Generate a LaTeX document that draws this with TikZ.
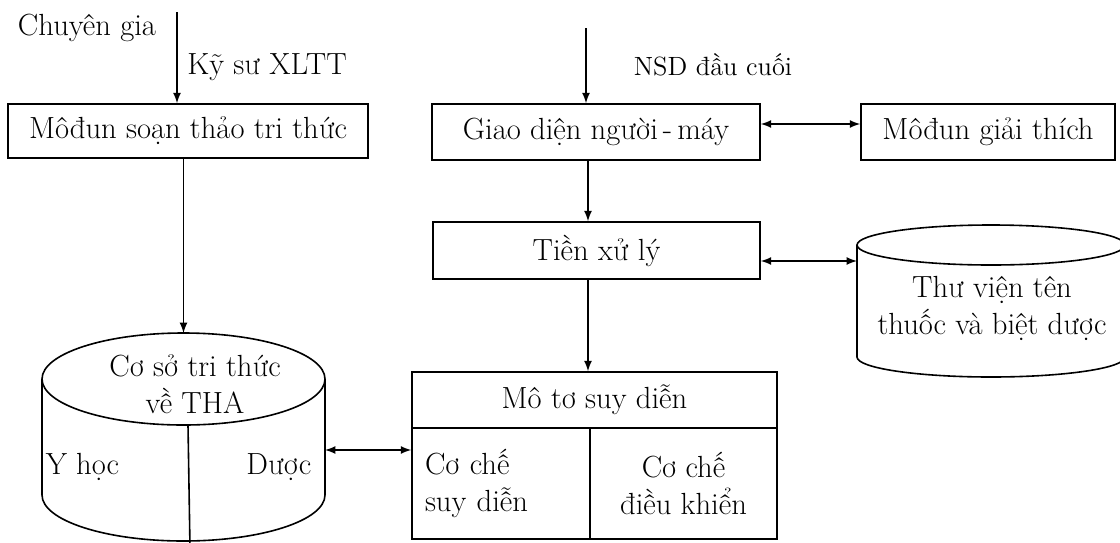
\documentclass[tikz,border=0pt]{standalone}
\usepackage{fontspec}
\begin{document}
\begin{tikzpicture}[x=0.5pt,y=-0.5pt,>=latex,thick,
  font=\fontsize{15.3}{18.5}\selectfont,
  khoi/.style={draw,rectangle,inner sep=0pt,align=center},
  nhan/.style={inner sep=0pt,align=center}]
\useasboundingbox (0,0) rectangle (1120,542);

% cac khoi ben trai
\node[nhan] (chuyengia) at (87,28) {Chuyên gia};
\node[nhan] (kysu) at (267,67) {Kỹ sư XLTT};
\coordinate (vao1) at (177,12);
\node[khoi,minimum width=180pt,minimum height=27pt] (soanthao) at (188,131) {Môđun soạn thảo tri thức};

% co so tri thuc (hinh tru)
\coordinate (csttop) at (183.5,333);
\coordinate (cstphai) at (325,450);
\draw (42,379) -- (42,495) arc[start angle=180,end angle=0,x radius=141.5,y radius=46] -- (325,379);
\draw (183.5,379) ellipse[x radius=141.5,y radius=46];
\draw (188,425) -- (190,548);
\node[nhan] (cst) at (195,384) {Cơ sở tri thức\\về THA};
\node[nhan,anchor=west] (yhoc) at (45,467) {Y học};
\node[nhan,anchor=east] (duoc) at (312,467) {Dược};

% cac khoi o giua
\coordinate (vao2) at (586,28);
\node[nhan,anchor=west,font=\fontsize{13.2}{16}\selectfont] (nsd) at (633,65) {NSD đầu cuối};
\node[khoi,minimum width=164pt,minimum height=28pt] (giaodien) at (596,132) {Giao diện người\,-\,máy};
\node[khoi,minimum width=127pt,minimum height=28pt] (giaithich) at (988,132) {Môđun giải thích};
\node[khoi,minimum width=163.5pt,minimum height=28.5pt] (tienxuly) at (596.5,250.5) {Tiền xử lý};
\node[khoi,minimum width=182.5pt,minimum height=28pt] (moto) at (594.5,400) {Mô tơ suy diễn};
\node[khoi,minimum width=89pt,minimum height=55.5pt,text width=76pt,align=left] (suydien) at (501,483.5) {Cơ chế\\suy diễn};
\node[khoi,minimum width=93.5pt,minimum height=55.5pt] (dieukhien) at (683.5,483.5) {Cơ chế\\điều khiển};

% thu vien (hinh tru)
\coordinate (tvtrai) at (857,261);
\draw (857,245) -- (857,357) arc[start angle=180,end angle=0,x radius=134,y radius=20] -- (1125,245);
\draw (991,245) ellipse[x radius=134,y radius=20];
\node[nhan] (thuvien) at (992,308.5) {Thư viện tên\\thuốc và biệt dược};

% cac mui ten
\draw[->] (vao1) -- (vao1 |- soanthao.north);
\draw[->] (soanthao.south -| csttop) -- (csttop);
\draw[->] (vao2) -- (vao2 |- giaodien.north);
\draw[<->] (giaodien.east |- 0,124) -- (giaithich.west |- 0,124);
\draw[->] (giaodien.south -| 588,0) -- (tienxuly.north -| 588,0);
\draw[<->] (tvtrai -| tienxuly.east) -- (tvtrai);
\draw[->] (tienxuly.south -| 588,0) -- (moto.north -| 588,0);
\draw[<->] (cstphai) -- (cstphai -| suydien.west);
\end{tikzpicture}
\end{document}
